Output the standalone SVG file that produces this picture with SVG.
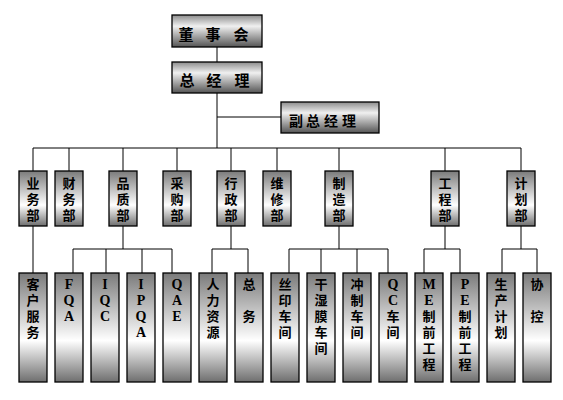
<svg xmlns="http://www.w3.org/2000/svg" width="563" height="400" viewBox="0 0 563 400">
<defs>
<linearGradient id="gh" x1="0" y1="0" x2="0" y2="1">
<stop offset="0" stop-color="#8c8c8c"/>
<stop offset="0.35" stop-color="#f0f0f0"/>
<stop offset="1" stop-color="#545454"/>
</linearGradient>
<linearGradient id="gv" x1="0" y1="0" x2="0" y2="1">
<stop offset="0" stop-color="#7a7a7a"/>
<stop offset="0.62" stop-color="#ffffff"/>
<stop offset="1" stop-color="#6e6e6e"/>
</linearGradient>
</defs>
<style>
.h{fill:url(#gh);stroke:#000;stroke-width:1.3}
.v{fill:url(#gv);stroke:#000;stroke-width:1.3}
text{font-family:"Liberation Serif","Noto Sans CJK SC",serif;font-weight:bold;fill:#000;text-anchor:middle}
.t{font-size:15px}
.f{font-size:14px}
.s{font-size:13px}
.l{font-size:14px}
.c line,.c polyline{stroke:#000;stroke-width:1;fill:none}
</style>
<rect width="563" height="400" fill="#fff"/>
<g class="c" id="connectors">
<line x1="217" y1="47" x2="217" y2="62"/>
<line x1="217" y1="93" x2="217" y2="148"/>
<line x1="217" y1="117" x2="281" y2="117"/>
<line x1="33" y1="148" x2="521" y2="148"/>
<line x1="33" y1="148" x2="33" y2="171"/>
<line x1="69" y1="148" x2="69" y2="171"/>
<line x1="123" y1="148" x2="123" y2="171"/>
<line x1="177" y1="148" x2="177" y2="171"/>
<line x1="231" y1="148" x2="231" y2="171"/>
<line x1="277" y1="148" x2="277" y2="171"/>
<line x1="339" y1="148" x2="339" y2="171"/>
<line x1="445" y1="148" x2="445" y2="171"/>
<line x1="521" y1="148" x2="521" y2="171"/>
<line x1="33" y1="226" x2="33" y2="273"/>
<line x1="123" y1="226" x2="123" y2="249"/>
<polyline points="73,273 73,249 172,249 172,273"/>
<line x1="106" y1="249" x2="106" y2="273"/>
<line x1="142" y1="249" x2="142" y2="273"/>
<line x1="231" y1="226" x2="231" y2="249"/>
<polyline points="212,273 212,249 248,249 248,273"/>
<line x1="339" y1="226" x2="339" y2="249"/>
<polyline points="289,273 289,249 388,249 388,273"/>
<line x1="321" y1="249" x2="321" y2="273"/>
<line x1="357" y1="249" x2="357" y2="273"/>
<line x1="445" y1="226" x2="445" y2="249"/>
<polyline points="424,273 424,249 460,249 460,273"/>
<line x1="521" y1="226" x2="521" y2="249"/>
<polyline points="502,273 502,249 537,249 537,273"/>
</g>
<g id="dongshihui"><rect class="h" x="172" y="15" width="90" height="32"/><text class="t"><tspan x="186" y="40">董</tspan><tspan x="213" y="40">事</tspan><tspan x="241" y="40">会</tspan></text></g>
<g id="zongjingli"><rect class="h" x="172" y="62" width="90" height="31"/><text class="t"><tspan x="187" y="86">总</tspan><tspan x="214" y="86">经</tspan><tspan x="242" y="86">理</tspan></text></g>
<g id="fuzongjingli"><rect class="h" x="281" y="102" width="98" height="31"/><text class="f"><tspan x="296" y="126">副</tspan><tspan x="313" y="126">总</tspan><tspan x="331" y="126">经</tspan><tspan x="349" y="126">理</tspan></text></g>
<g id="yewubu"><rect class="v" x="19" y="171" width="28" height="55"/><text class="s"><tspan x="33" y="188">业</tspan><tspan x="33" y="204">务</tspan><tspan x="33" y="220">部</tspan></text></g>
<g id="caiwubu"><rect class="v" x="55" y="171" width="28" height="55"/><text class="s"><tspan x="69" y="188">财</tspan><tspan x="69" y="204">务</tspan><tspan x="69" y="220">部</tspan></text></g>
<g id="pinzhibu"><rect class="v" x="109" y="171" width="28" height="55"/><text class="s"><tspan x="123" y="188">品</tspan><tspan x="123" y="204">质</tspan><tspan x="123" y="220">部</tspan></text></g>
<g id="caigoubu"><rect class="v" x="163" y="171" width="28" height="55"/><text class="s"><tspan x="177" y="188">采</tspan><tspan x="177" y="204">购</tspan><tspan x="177" y="220">部</tspan></text></g>
<g id="xingzhengbu"><rect class="v" x="217" y="171" width="28" height="55"/><text class="s"><tspan x="231" y="188">行</tspan><tspan x="231" y="204">政</tspan><tspan x="231" y="220">部</tspan></text></g>
<g id="weixiubu"><rect class="v" x="263" y="171" width="28" height="55"/><text class="s"><tspan x="277" y="188">维</tspan><tspan x="277" y="204">修</tspan><tspan x="277" y="220">部</tspan></text></g>
<g id="zhizaobu"><rect class="v" x="325" y="171" width="28" height="55"/><text class="s"><tspan x="339" y="188">制</tspan><tspan x="339" y="204">造</tspan><tspan x="339" y="220">部</tspan></text></g>
<g id="gongchengbu"><rect class="v" x="431" y="171" width="28" height="55"/><text class="s"><tspan x="445" y="188">工</tspan><tspan x="445" y="204">程</tspan><tspan x="445" y="220">部</tspan></text></g>
<g id="jihuabu"><rect class="v" x="507" y="171" width="28" height="55"/><text class="s"><tspan x="521" y="188">计</tspan><tspan x="521" y="204">划</tspan><tspan x="521" y="220">部</tspan></text></g>
<g id="kehufuwu"><rect class="v" x="19" y="273" width="28" height="109"/><text class="s"><tspan x="33" y="289">客</tspan><tspan x="33" y="305">户</tspan><tspan x="33" y="321">服</tspan><tspan x="33" y="337">务</tspan></text></g>
<g id="fqa"><rect class="v" x="55" y="273" width="28" height="109"/><text class="s"><tspan class="l" x="69" y="289">F</tspan><tspan class="l" x="69" y="305">Q</tspan><tspan class="l" x="69" y="321">A</tspan></text></g>
<g id="iqc"><rect class="v" x="91" y="273" width="28" height="109"/><text class="s"><tspan class="l" x="105" y="289">I</tspan><tspan class="l" x="105" y="305">Q</tspan><tspan class="l" x="105" y="321">C</tspan></text></g>
<g id="ipqa"><rect class="v" x="127" y="273" width="28" height="109"/><text class="s"><tspan class="l" x="141" y="289">I</tspan><tspan class="l" x="141" y="305">P</tspan><tspan class="l" x="141" y="321">Q</tspan><tspan class="l" x="141" y="337">A</tspan></text></g>
<g id="qae"><rect class="v" x="163" y="273" width="28" height="109"/><text class="s"><tspan class="l" x="177" y="289">Q</tspan><tspan class="l" x="177" y="305">A</tspan><tspan class="l" x="177" y="321">E</tspan></text></g>
<g id="renliziyuan"><rect class="v" x="199" y="273" width="28" height="109"/><text class="s"><tspan x="213" y="289">人</tspan><tspan x="213" y="305">力</tspan><tspan x="213" y="321">资</tspan><tspan x="213" y="337">源</tspan></text></g>
<g id="zongwu"><rect class="v" x="235" y="273" width="28" height="109"/><text class="s"><tspan x="249" y="289">总</tspan><tspan x="249" y="321">务</tspan></text></g>
<g id="siyinchejian"><rect class="v" x="271" y="273" width="28" height="109"/><text class="s"><tspan x="285" y="289">丝</tspan><tspan x="285" y="305">印</tspan><tspan x="285" y="321">车</tspan><tspan x="285" y="337">间</tspan></text></g>
<g id="ganshimochejian"><rect class="v" x="307" y="273" width="28" height="109"/><text class="s"><tspan x="321" y="289">干</tspan><tspan x="321" y="305">湿</tspan><tspan x="321" y="321">膜</tspan><tspan x="321" y="337">车</tspan><tspan x="321" y="353">间</tspan></text></g>
<g id="chongzhichejian"><rect class="v" x="343" y="273" width="28" height="109"/><text class="s"><tspan x="357" y="289">冲</tspan><tspan x="357" y="305">制</tspan><tspan x="357" y="321">车</tspan><tspan x="357" y="337">间</tspan></text></g>
<g id="qcchejian"><rect class="v" x="379" y="273" width="28" height="109"/><text class="s"><tspan class="l" x="393" y="289">Q</tspan><tspan class="l" x="393" y="305">C</tspan><tspan x="393" y="321">车</tspan><tspan x="393" y="337">间</tspan></text></g>
<g id="me"><rect class="v" x="415" y="273" width="28" height="109"/><text class="s"><tspan class="l" x="429" y="289">M</tspan><tspan class="l" x="429" y="305">E</tspan><tspan x="429" y="321">制</tspan><tspan x="429" y="337">前</tspan><tspan x="429" y="353">工</tspan><tspan x="429" y="369">程</tspan></text></g>
<g id="pe"><rect class="v" x="451" y="273" width="28" height="109"/><text class="s"><tspan class="l" x="465" y="289">P</tspan><tspan class="l" x="465" y="305">E</tspan><tspan x="465" y="321">制</tspan><tspan x="465" y="337">前</tspan><tspan x="465" y="353">工</tspan><tspan x="465" y="369">程</tspan></text></g>
<g id="shengchanjihua"><rect class="v" x="487" y="273" width="28" height="109"/><text class="s"><tspan x="501" y="289">生</tspan><tspan x="501" y="305">产</tspan><tspan x="501" y="321">计</tspan><tspan x="501" y="337">划</tspan></text></g>
<g id="xiekong"><rect class="v" x="523" y="273" width="28" height="109"/><text class="s"><tspan x="537" y="289">协</tspan><tspan x="537" y="321">控</tspan></text></g>
</svg>
